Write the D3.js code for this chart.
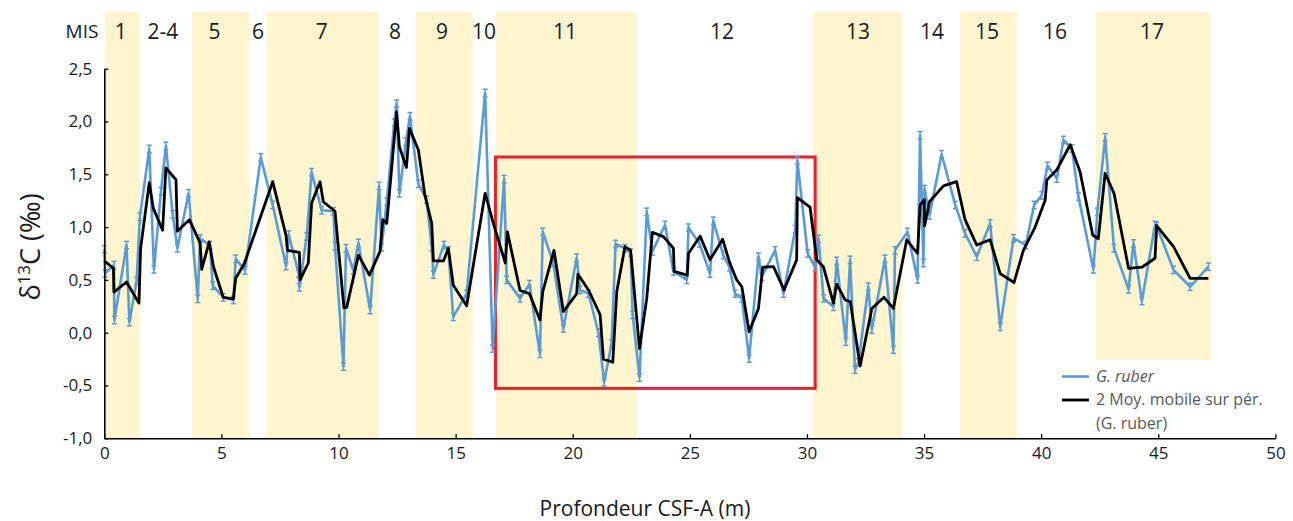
<!DOCTYPE html>
<html>
<head>
<meta charset="utf-8">
<script src="https://cdn.jsdelivr.net/npm/d3@7"></script>
<style>
  html, body { margin: 0; padding: 0; background: #ffffff; }
  svg { display: block; }
  text { font-family: "Open Sans", "Noto Sans", "DejaVu Sans", sans-serif; }
</style>
</head>
<body>
<svg id="chart" width="1293" height="521"></svg>
<script>
// ---------- DATA ----------
// G. ruber delta13C: depth (m) and value (permil)
const rubberDepth = [0.00,0.03,0.41,0.43,0.95,1.07,1.38,1.52,1.92,2.12,2.42,2.63,2.92,3.12,3.60,3.99,4.09,4.51,4.63,5.08,5.51,5.61,6.01,6.68,7.19,7.76,7.87,8.30,8.33,8.64,8.85,9.28,9.78,9.85,10.21,10.32,10.63,10.85,11.35,11.73,11.84,12.06,12.38,12.48,12.60,12.88,13.05,13.41,13.76,13.98,14.05,14.50,14.69,14.90,15.47,16.26,16.58,17.07,17.18,17.75,18.15,18.60,18.72,19.17,19.60,20.17,20.31,20.67,21.10,21.34,21.66,21.83,22.23,22.47,22.56,22.85,23.16,23.40,23.94,24.30,24.87,24.94,25.41,25.86,26.00,26.43,26.69,26.93,27.22,27.53,27.93,28.07,28.64,29.00,29.50,29.59,30.03,30.35,30.49,30.71,31.13,31.27,31.66,31.84,32.05,32.20,32.62,32.77,33.33,33.69,33.76,34.29,34.72,34.83,34.97,35.02,35.23,35.75,36.33,36.75,37.25,37.82,38.25,38.82,39.34,39.70,40.02,40.27,40.67,40.95,41.31,41.59,42.23,42.40,42.73,43.11,43.73,43.94,44.30,44.86,44.93,45.65,46.36,47.14];
const rubberValue = [0.79,0.56,0.64,0.12,0.83,0.10,0.49,1.10,1.74,0.60,1.34,1.77,1.12,0.80,1.32,0.32,0.89,0.83,0.445,0.335,0.31,0.70,0.59,1.66,1.21,0.63,0.93,0.56,0.43,0.91,1.52,1.16,1.15,0.82,-0.32,0.80,0.59,0.85,0.215,1.39,0.81,1.24,1.99,2.17,1.32,1.81,2.05,1.41,1.26,0.81,0.55,0.83,0.78,0.15,0.37,2.27,-0.15,1.455,0.50,0.325,0.46,-0.20,0.955,0.66,0.04,0.71,0.405,0.37,0.00,-0.47,-0.10,0.84,0.80,0.76,0.17,-0.425,1.145,0.77,1.02,0.58,0.50,0.995,0.845,0.56,1.06,0.735,0.62,0.37,0.325,-0.245,0.72,0.53,0.78,0.37,0.98,1.63,0.75,0.62,0.89,0.325,0.245,0.68,-0.085,0.69,-0.35,-0.28,0.435,0.03,0.70,-0.16,0.78,0.955,0.505,1.87,0.66,1.36,1.11,1.69,1.21,0.94,0.72,1.035,0.055,0.895,0.83,1.21,1.30,1.58,1.46,1.825,1.745,1.29,0.60,1.145,1.85,0.80,0.41,0.845,0.30,1.02,1.01,0.595,0.435,0.625];
const rubberError = 0.035;

// 2-period moving average (as drawn in the figure)
const avgDepth = [0.00,0.39,0.41,0.95,1.48,1.55,1.92,2.09,2.49,2.63,3.06,3.12,3.63,4.09,4.16,4.48,4.66,5.08,5.51,5.61,5.97,7.19,7.76,7.82,8.33,8.36,8.71,8.85,9.21,9.35,9.85,10.23,10.35,10.85,11.32,11.77,11.89,12.06,12.48,12.60,12.90,13.03,13.41,13.69,13.98,14.05,14.48,14.69,14.90,15.47,16.26,16.61,17.12,17.21,17.75,18.15,18.60,18.72,19.20,19.60,20.17,20.22,20.67,21.17,21.31,21.71,21.88,22.23,22.47,22.85,23.16,23.40,23.87,24.30,24.33,24.89,24.94,25.44,25.86,26.40,26.69,27.00,27.22,27.53,27.93,28.11,28.57,29.02,29.56,29.59,30.13,30.42,30.70,31.13,31.27,31.63,31.85,32.27,32.77,33.29,33.69,34.26,34.72,34.83,35.01,35.02,35.23,35.83,36.39,36.75,37.25,37.82,38.25,38.84,39.24,39.74,40.17,40.24,40.66,41.24,41.66,42.20,42.44,42.73,43.11,43.73,44.30,44.86,44.93,45.65,46.36,47.14];
const avgValue = [0.68,0.61,0.385,0.48,0.28,0.80,1.42,1.18,0.97,1.56,1.45,0.96,1.07,0.85,0.60,0.86,0.625,0.335,0.32,0.515,0.65,1.43,0.92,0.78,0.76,0.50,0.66,1.225,1.43,1.24,1.15,0.235,0.24,0.735,0.545,0.77,1.07,1.035,2.09,1.76,1.565,1.935,1.73,1.30,1.035,0.68,0.68,0.80,0.45,0.255,1.32,1.035,0.66,0.955,0.40,0.37,0.12,0.39,0.78,0.20,0.37,0.555,0.405,0.17,-0.25,-0.28,0.39,0.815,0.78,-0.15,0.325,0.95,0.91,0.80,0.58,0.545,0.75,0.915,0.69,0.885,0.67,0.50,0.435,0.01,0.23,0.62,0.625,0.405,0.69,1.28,1.19,0.69,0.625,0.28,0.46,0.31,0.295,-0.315,0.23,0.335,0.23,0.88,0.75,1.21,1.26,1.01,1.24,1.39,1.43,1.07,0.83,0.88,0.56,0.475,0.78,1.00,1.255,1.445,1.54,1.78,1.525,0.925,0.89,1.51,1.32,0.61,0.62,0.705,1.015,0.815,0.515,0.515];

// Marine isotope stages (labels and their depth positions)
const misLabels = ["1","2-4","5","6","7","8","9","10","11","12","13","14","15","16","17"];
const misLabelDepth = [0.70,2.50,4.70,6.56,9.28,12.41,14.42,16.21,19.67,26.37,32.18,35.34,37.69,40.59,44.73];
// shaded (odd, interglacial) stages: start / end depth
const bandStart = [0.05,3.74,6.93,13.30,16.72,30.27,36.54,42.34];
const bandEnd   = [1.53,6.19,11.70,15.73,22.73,34.05,38.96,47.25];

// Highlighted interval (red box): depth and value bounds
const boxDepth = [16.70, 30.35];
const boxValue = [-0.527, 1.664];

const xTicks = [0,5,10,15,20,25,30,35,40,45,50];
const yTicks = [-1,-0.5,0,0.5,1,1.5,2,2.5];

const legendLabels = ["G. ruber", "2 Moy. mobile sur pér.", "(G. ruber)"];
const xTitle = "Profondeur CSF-A (m)";

// ---------- CHART ----------
const svg = d3.select("#chart");
const x = d3.scaleLinear().domain([0, 50]).range([104.3, 1275.4]);
const y = d3.scaleLinear().domain([-1, 2.5]).range([438.3, 68.7]);
const fmt = v => d3.format(".1f")(v).replace(".", ",").replace("−", "-");

const bandColor = "#FFF5CE";
const blue = "#5B9BD5";

// bands
const bands = bandStart.map((s, i) => ({s, e: bandEnd[i], last: i === bandStart.length - 1}));
svg.append("g").selectAll("rect").data(bands).join("rect")
  .attr("x", d => x(d.s))
  .attr("width", d => x(d.e) - x(d.s))
  .attr("y", 12)
  .attr("height", d => (d.last ? 360 : y(-1)) - 12)
  .attr("fill", bandColor);

// MIS labels
svg.append("text").attr("x", 82).attr("y", 38).attr("text-anchor", "middle")
  .attr("font-size", 19).attr("fill", "#1a1a1a").text("MIS");
svg.append("g").selectAll("text").data(misLabels).join("text")
  .attr("x", (d, i) => x(misLabelDepth[i]))
  .attr("y", 39)
  .attr("text-anchor", "middle")
  .attr("font-size", 21)
  .attr("fill", "#1a1a1a")
  .text(d => d);

// red box
svg.append("rect")
  .attr("x", x(boxDepth[0])).attr("y", y(boxValue[1]))
  .attr("width", x(boxDepth[1]) - x(boxDepth[0]))
  .attr("height", y(boxValue[0]) - y(boxValue[1]))
  .attr("fill", "none").attr("stroke", "#E8202A").attr("stroke-width", 3);

// blue series
const blueData = rubberDepth.map((d, i) => ({d, v: rubberValue[i]}));
const line = d3.line().x(p => x(p.d)).y(p => y(p.v));
svg.append("path").datum(blueData)
  .attr("d", line).attr("fill", "none").attr("stroke", blue)
  .attr("stroke-width", 2.6).attr("stroke-linejoin", "round");

// error bars
const eb = svg.append("g").attr("stroke", blue).attr("stroke-width", 1.5);
eb.selectAll("line.v").data(blueData).join("line").attr("class", "v")
  .attr("x1", p => x(p.d)).attr("x2", p => x(p.d))
  .attr("y1", p => y(p.v - rubberError)).attr("y2", p => y(p.v + rubberError));
eb.selectAll("line.t").data(blueData).join("line").attr("class", "t")
  .attr("x1", p => x(p.d) - 2.5).attr("x2", p => x(p.d) + 2.5)
  .attr("y1", p => y(p.v + rubberError)).attr("y2", p => y(p.v + rubberError));
eb.selectAll("line.b").data(blueData).join("line").attr("class", "b")
  .attr("x1", p => x(p.d) - 2.5).attr("x2", p => x(p.d) + 2.5)
  .attr("y1", p => y(p.v - rubberError)).attr("y2", p => y(p.v - rubberError));

// moving average
const avgData = avgDepth.map((d, i) => ({d, v: avgValue[i]}));
svg.append("path").datum(avgData)
  .attr("d", line).attr("fill", "none").attr("stroke", "#000")
  .attr("stroke-width", 2.8).attr("stroke-linejoin", "round");

// axes
const xAxis = d3.axisBottom(x).tickValues(xTicks).tickSize(-4).tickSizeOuter(0).tickPadding(9)
  .tickFormat(d3.format("d"));
const gx = svg.append("g").attr("transform", `translate(0,${y(-1)})`).call(xAxis);
const yAxis = d3.axisLeft(y).tickValues(yTicks).tickSize(-4).tickSizeOuter(0).tickPadding(12)
  .tickFormat(fmt);
const gy = svg.append("g").attr("transform", `translate(${x(0)},0)`).call(yAxis);
[gx, gy].forEach(g => {
  g.select(".domain").attr("stroke", "#000").attr("stroke-width", 1.6);
  g.selectAll(".tick line").attr("stroke", "#000").attr("stroke-width", 1.3);
  g.selectAll(".tick text").attr("font-size", 17).attr("fill", "#1a1a1a")
    .attr("font-family", "'Open Sans', sans-serif");
});

// axis titles
svg.append("text").attr("x", 645).attr("y", 516).attr("text-anchor", "middle")
  .attr("font-size", 21).attr("fill", "#1a1a1a").text(xTitle);
const yt = svg.append("text")
  .attr("transform", "translate(40,247) rotate(-90)")
  .attr("text-anchor", "middle").attr("font-size", 27).attr("fill", "#1a1a1a");
yt.append("tspan").text("δ");
yt.append("tspan").attr("font-size", 17).attr("dy", -10).text("13");
yt.append("tspan").attr("dy", 10).text("C (‰)");

// legend
const lg = svg.append("g").attr("font-size", 16).attr("fill", "#595959");
lg.append("line").attr("x1", 1062).attr("x2", 1089).attr("y1", 376.5).attr("y2", 376.5)
  .attr("stroke", blue).attr("stroke-width", 2.6);
lg.append("text").attr("x", 1096).attr("y", 382).attr("font-style", "italic").text(legendLabels[0]);
lg.append("line").attr("x1", 1062).attr("x2", 1089).attr("y1", 400).attr("y2", 400)
  .attr("stroke", "#000").attr("stroke-width", 2.8);
lg.append("text").attr("x", 1096).attr("y", 405).text(legendLabels[1]);
lg.append("text").attr("x", 1096).attr("y", 429).text(legendLabels[2]);
</script>
</body>
</html>
